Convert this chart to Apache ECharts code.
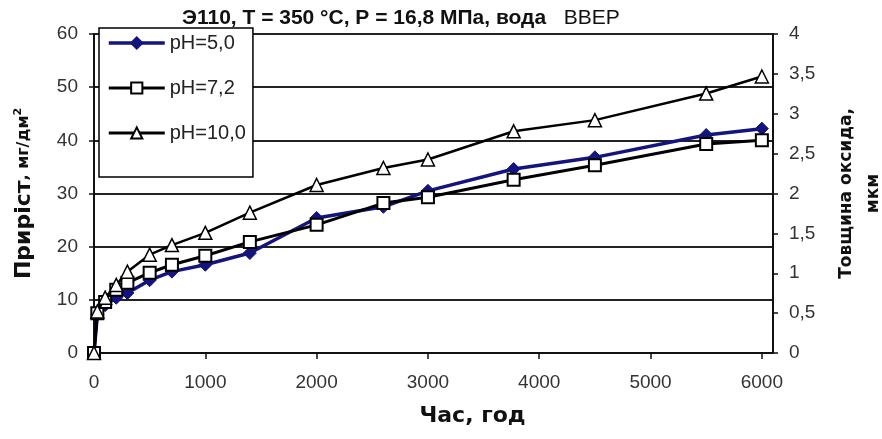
<!DOCTYPE html>
<html>
<head>
<meta charset="utf-8">
<script src="https://cdn.jsdelivr.net/npm/echarts@6/dist/echarts.min.js"></script>
<style>
  html, body { margin: 0; padding: 0; background: #fff; }
  #chart { width: 882px; height: 439px; }
</style>
</head>
<body>
<div id="chart"></div>
<script>
    // час витримки, год
    var hours = [0, 30, 100, 200, 300, 500, 700, 1000, 1400, 2000, 2600, 3000, 3770, 4500, 5500, 6000];
    // приріст маси, мг/дм2
    var gainPH50 = [0, 7.2, 9.0, 10.4, 11.3, 13.7, 15.3, 16.6, 18.8, 25.4, 27.5, 30.5, 34.6, 36.8, 41.0, 42.2];
    var gainPH72 = [0, 7.5, 9.6, 11.9, 13.2, 15.1, 16.6, 18.3, 20.9, 24.1, 28.2, 29.3, 32.6, 35.3, 39.3, 40.0];
    var gainPH100 = [0, 7.8, 10.4, 12.8, 15.3, 18.5, 20.3, 22.6, 26.4, 31.6, 34.8, 36.4, 41.7, 43.8, 48.8, 52.0];
    var seriesNames = ['pH=5,0', 'pH=7,2', 'pH=10,0'];

    function pairs(vals) {
        return hours.map(function (h, i) { return [h, vals[i]]; });
    }

    var labelFont = 'Liberation Sans, Arial, sans-serif';
    var nameFont = 'DejaVu Sans, sans-serif';

    var myChart = echarts.init(document.getElementById('chart'));
    var option = {
        animation: false,
        backgroundColor: '#fff',
        title: {
            text: 'Э110, Т = 350 °C, Р = 16,8 МПа, вода {n|  ВВЕР}',
            left: 177,
            top: 3,
            textStyle: {
                fontFamily: labelFont,
                fontSize: 21,
                fontWeight: 'bold',
                color: '#111',
                rich: {
                    n: { fontFamily: labelFont, fontSize: 21, fontWeight: 'normal', color: '#111' }
                }
            }
        },
        legend: {
            orient: 'vertical',
            left: 99,
            top: 28,
            padding: [5, 7, 34, 8],
            itemGap: 25,
            itemWidth: 56,
            itemHeight: 14,
            backgroundColor: '#fff',
            borderColor: '#000',
            borderWidth: 1.5,
            borderRadius: 0,
            data: [
                { name: seriesNames[0], lineStyle: { width: 3.5 } },
                { name: seriesNames[1], lineStyle: { width: 3 } },
                { name: seriesNames[2], lineStyle: { width: 3 } }
            ],
            textStyle: { fontFamily: labelFont, fontSize: 20, color: '#222' }
        },
        grid: {
            left: 94,
            right: 109,
            top: 34,
            bottom: 86,
            outerBoundsMode: 'none'
        },
        xAxis: {
            type: 'value',
            min: 0,
            max: 6100,
            interval: 1000,
            name: 'Час, год',
            nameLocation: 'middle',
            nameGap: 52,
            nameTextStyle: {
                fontFamily: nameFont, fontSize: 22, fontWeight: 'bold', color: '#111',
                padding: [0, 0, 0, 78]
            },
            axisLine: { lineStyle: { color: '#111', width: 2 } },
            axisTick: { length: 6, lineStyle: { color: '#111', width: 1.5 } },
            axisLabel: {
                margin: 20, fontFamily: labelFont, fontSize: 19, color: '#333',
                showMaxLabel: false,
                formatter: function (v) { return v > 6000 ? '' : v; }
            },
            splitLine: { show: false }
        },
        yAxis: [
            {
                type: 'value',
                min: 0,
                max: 60,
                interval: 10,
                position: 'left',
                name: '{a|Приріст}{b|, мг/дм}{s|2}',
                nameLocation: 'middle',
                nameGap: 59,
                nameTextStyle: {
                    rich: {
                        a: { fontFamily: nameFont, fontSize: 22, fontWeight: 'bold', color: '#111' },
                        b: { fontFamily: nameFont, fontSize: 16, fontWeight: 'bold', color: '#111' },
                        s: { fontFamily: nameFont, fontSize: 11, fontWeight: 'bold', color: '#111', verticalAlign: 'top' }
                    }
                },
                axisLine: { show: true, lineStyle: { color: '#111', width: 2 } },
                axisTick: { show: true, length: 5, lineStyle: { color: '#111', width: 1.5 } },
                axisLabel: { margin: 16, fontFamily: labelFont, fontSize: 19, color: '#333' },
                splitLine: { show: true, lineStyle: { color: '#222', width: 2 } }
            },
            {
                type: 'value',
                min: 0,
                max: 4,
                interval: 0.5,
                position: 'right',
                name: 'Товщина оксида,\nмкм',
                nameLocation: 'middle',
                nameGap: 60,
                nameTextStyle: {
                    fontFamily: nameFont, fontSize: 17, fontWeight: 'bold', color: '#111',
                    lineHeight: 27
                },
                axisLine: { show: true, lineStyle: { color: '#111', width: 2 } },
                axisTick: { show: true, length: 5, lineStyle: { color: '#111', width: 1.5 } },
                axisLabel: {
                    margin: 16, fontFamily: labelFont, fontSize: 19, color: '#333',
                    formatter: function (v) { return String(v).replace('.', ','); }
                },
                splitLine: { show: false }
            }
        ],
        series: [
            {
                name: seriesNames[0],
                type: 'line',
                yAxisIndex: 0,
                data: pairs(gainPH50),
                symbol: 'diamond',
                symbolSize: 13,
                lineStyle: { color: '#14147e', width: 3.5 },
                itemStyle: { color: '#14147e', borderColor: '#14147e', borderWidth: 1 },
                z: 2
            },
            {
                name: seriesNames[1],
                type: 'line',
                yAxisIndex: 0,
                data: pairs(gainPH72),
                symbol: 'rect',
                symbolSize: 12,
                lineStyle: { color: '#000', width: 3 },
                itemStyle: { color: '#fff', borderColor: '#000', borderWidth: 2 },
                z: 3
            },
            {
                name: seriesNames[2],
                type: 'line',
                yAxisIndex: 0,
                data: pairs(gainPH100),
                symbol: 'triangle',
                symbolSize: 13,
                lineStyle: { color: '#000', width: 2.5 },
                itemStyle: { color: '#fff', borderColor: '#000', borderWidth: 1.5 },
                z: 4
            }
        ]
    };
    myChart.setOption(option);
</script>
</body>
</html>
